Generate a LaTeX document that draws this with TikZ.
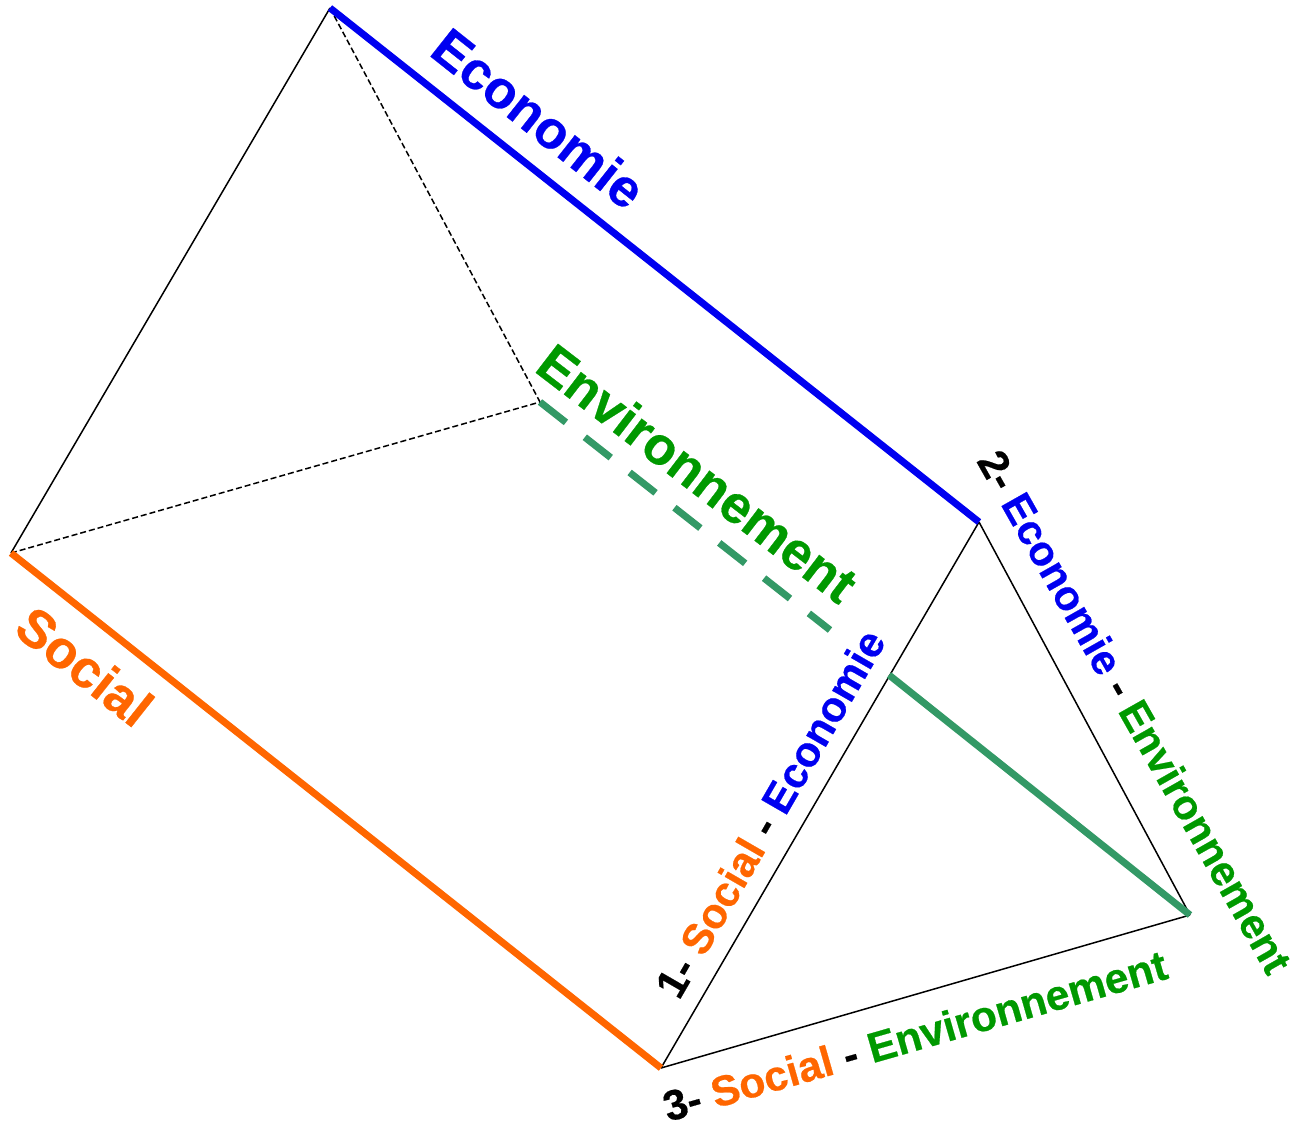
\documentclass[tikz,border=0pt]{standalone}
\usepackage{fontspec}
\setmainfont[BoldFeatures={FakeBold=0.5}]{Liberation Sans}
\definecolor{cblue}{RGB}{0,0,240}
\definecolor{corange}{RGB}{255,102,0}
\definecolor{cgreen}{RGB}{0,153,0}
\definecolor{cteal}{RGB}{51,153,102}
\tikzset{
 thin line/.style={line width=1.5pt,black},
 dash line/.style={line width=1.5pt,black,dash pattern=on 6pt off 3pt},
 thick line/.style={line width=7pt,line cap=butt},
 lbl/.style={font=\bfseries\fontsize{#1}{#1}\selectfont,inner sep=0pt,anchor=base},
}
\begin{document}
\begin{tikzpicture}[x=1pt,y=-1pt]
\useasboundingbox (0,0) rectangle (1293,1125);
\coordinate (A) at (330,8);
\coordinate (B) at (979,522);
\coordinate (C) at (540,402);
\coordinate (D) at (11,553);
\coordinate (E) at (661,1068);
\coordinate (F) at (1190,915);
\coordinate (M) at (889,675);
\coordinate (N) at (830,630);
\draw[thin line] (D) -- (A);
\draw[dash line] (A) -- (C);
\draw[dash line] (D) -- (C);
\draw[thin line] (E) -- (B);
\draw[thin line] (B) -- (F);
\draw[thin line] (E) -- (F);
\draw[thick line,cblue] (A) -- (B);
\draw[thick line,corange] (D) -- (E);
\draw[thick line,cteal] (M) -- (F);
\draw[thick line,cteal,dash pattern=on 33pt off 24pt] (C) -- (N);
\node[lbl=53,text=cblue,rotate=-38.4] (t1) at (527,133) {Economie};
\node[lbl=53,text=cgreen,rotate=-37.5] (t2) at (686,488) {Environnement};
\node[lbl=53,text=corange,rotate=-38.4] (t3) at (73,681) {Social};
\node[lbl=42.5,rotate=60,text=black] (t4) at (783,821) {1- \textcolor{corange}{Social} - \textcolor{cblue}{Economie}};
\node[lbl=42,rotate=-60.5,text=black] (t5) at (1122,719) {2- \textcolor{cblue}{Economie} - \textcolor{cgreen}{Environnement}};
\node[lbl=42.5,rotate=16,text=black] (t6) at (919,1050) {3- \textcolor{corange}{Social} - \textcolor{cgreen}{Environnement}};
\end{tikzpicture}
\end{document}
